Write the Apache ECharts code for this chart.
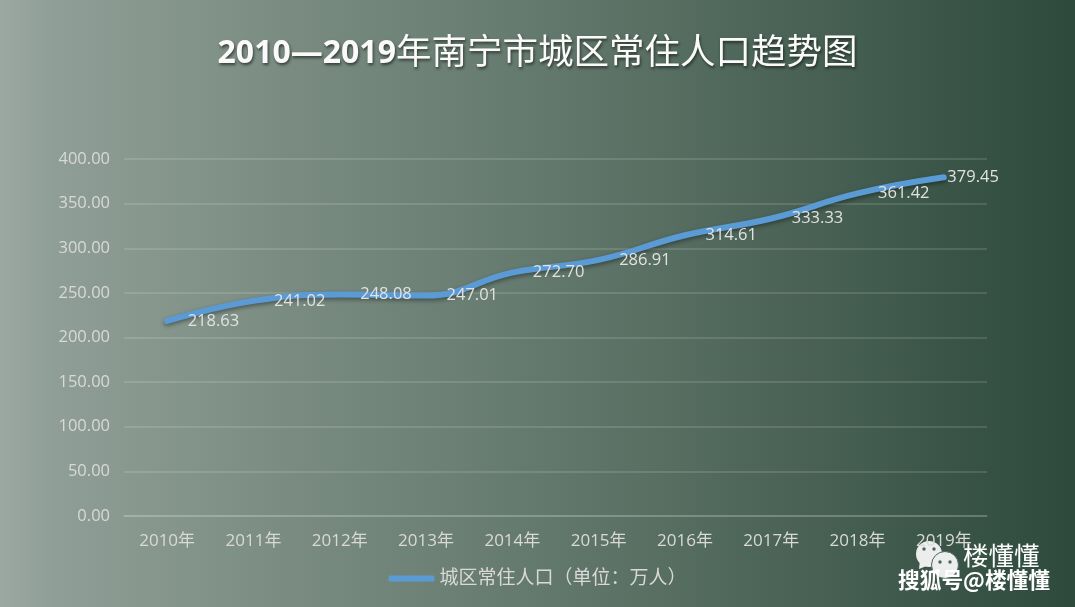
<!DOCTYPE html>
<html><head><meta charset="utf-8">
<style>html,body{margin:0;padding:0;background:#5f7568}#c{width:1075px;height:607px}</style>
<script src="https://cdn.jsdelivr.net/npm/echarts@6/dist/echarts.min.js"></script>
</head><body><div id="c"></div>
<script>
const categories = ['2010年','2011年','2012年','2013年','2014年','2015年','2016年','2017年','2018年','2019年'];
const population = [218.63,241.02,248.08,247.01,272.70,286.91,314.61,333.33,361.42,379.45];
const seriesName = '城区常住人口（单位：万人）';
const titleYears = '2010—2019';
const titleRest = '年南宁市城区常住人口趋势图';
const font = '"Open Sans","Noto Sans CJK SC",sans-serif';
const titleShadow = {textShadowColor:'rgba(0,0,0,0.55)',textShadowBlur:3,textShadowOffsetX:1,textShadowOffsetY:2};
const chart = echarts.init(document.getElementById('c'), null, {renderer:'canvas'});
chart.setOption({
  animation:false,
  backgroundColor:{type:'linear',x:0,y:0,x2:1,y2:0,colorStops:[
    {offset:0,color:'#9aa8a1'},{offset:0.05,color:'#8f9e96'},{offset:0.5,color:'#64796d'},{offset:1,color:'#2d4a3c'}]},
  title:{text:`{d|${titleYears}}{c|${titleRest}}`,left:'center',top:31,textStyle:{
    color:'#fafafa',fontSize:35,fontFamily:font,
    rich:{
      d:{color:'#fafafa',fontSize:32,fontWeight:'bold',fontFamily:font,...titleShadow},
      c:{color:'#fafafa',fontSize:35.5,fontWeight:'normal',fontFamily:font,...titleShadow}
    }}},
  grid:{left:124,right:88,top:159,bottom:91,containLabel:false},
  legend:{bottom:14,left:'center',itemWidth:46,itemHeight:6,itemGap:4,icon:'roundRect',
    textStyle:{color:'#d9d9d9',fontSize:19,fontFamily:font},data:[seriesName]},
  xAxis:{type:'category',data:categories,boundaryGap:true,
    axisLine:{lineStyle:{color:'rgba(255,255,255,0.17)',width:1.5}},axisTick:{show:false},
    axisLabel:{color:'#d9d9d9',fontSize:17,margin:17,fontFamily:font,interval:0}},
  yAxis:{type:'value',min:0,max:400,interval:50,
    axisLine:{show:false},axisTick:{show:false},
    splitLine:{lineStyle:{color:'rgba(255,255,255,0.17)',width:1.5}},
    axisLabel:{color:'#d9d9d9',fontSize:16.5,margin:14,fontFamily:font,formatter:v=>v.toFixed(2)}},
  series:[{name:seriesName,type:'line',smooth:0.45,showSymbol:true,showAllSymbol:true,symbol:'circle',symbolSize:1,
    lineStyle:{color:'#5b9bd5',width:6,cap:'round',shadowColor:'rgba(0,0,0,0.4)',shadowBlur:4,shadowOffsetY:2},
    itemStyle:{color:'#5b9bd5'},
    label:{show:true,position:'right',distance:20,color:'#e2e2e2',fontSize:16.5,fontFamily:font,formatter:p=>p.value.toFixed(2)},
    labelLayout:{hideOverlap:false},
    data:population.map((v,i)=>i===population.length-1?{value:v,label:{distance:3}}:v)}],
  graphic:[
    {type:'group',left:916,top:541,children:[
      {type:'circle',shape:{cx:13,cy:13,r:13},style:{fill:'#eceeed'}},
      {type:'polygon',shape:{points:[[4,19],[3,28],[13,24]]},style:{fill:'#eceeed'}},
      {type:'circle',shape:{cx:29,cy:24,r:13.5},style:{fill:'#eceeed',stroke:'#4a6557',lineWidth:1}},
      {type:'circle',shape:{cx:8,cy:8,r:1.7},style:{fill:'#4a6557'}},
      {type:'circle',shape:{cx:18,cy:8,r:1.7},style:{fill:'#4a6557'}},
      {type:'circle',shape:{cx:24,cy:21,r:1.7},style:{fill:'#4a6557'}},
      {type:'circle',shape:{cx:34,cy:21,r:1.7},style:{fill:'#4a6557'}}
    ]},
    {type:'text',left:963,top:543,style:{text:'楼懂懂',fill:'#ffffff',fontSize:25.5,fontFamily:'"Noto Sans CJK SC",sans-serif'}},
    {type:'text',left:898,top:569,style:{text:'搜狐号@楼懂懂',fill:'#ffffff',fontSize:21.7,fontWeight:'bold',fontFamily:'"Noto Sans CJK SC",sans-serif',
      textShadowColor:'#000',textShadowBlur:0,textShadowOffsetX:2,textShadowOffsetY:2}}
  ]
});
</script></body></html>
